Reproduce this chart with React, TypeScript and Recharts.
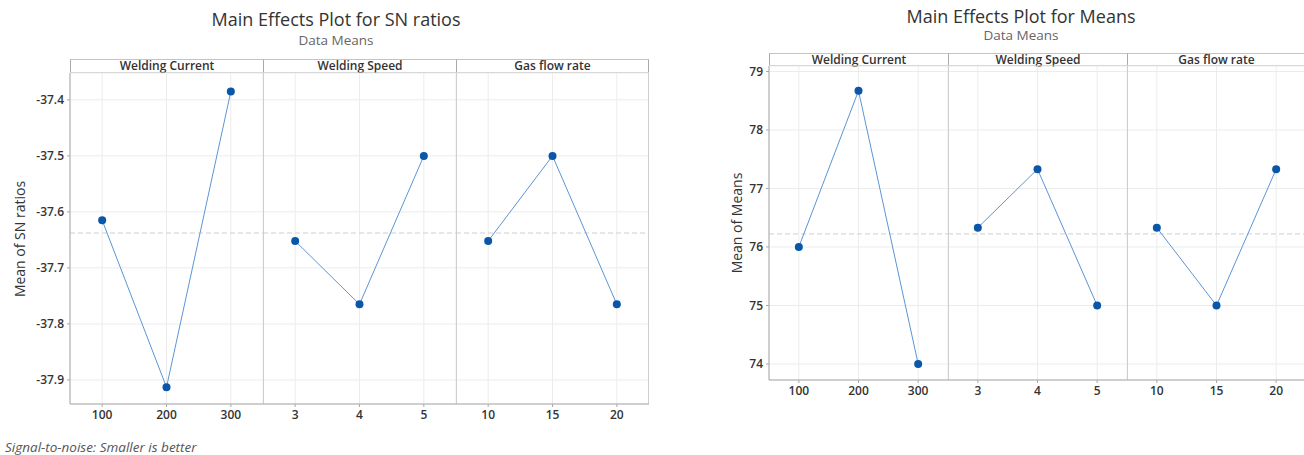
import React from 'react';
import { LineChart, Line, XAxis, YAxis, CartesianGrid, ReferenceLine } from 'recharts';

// factor names and levels
const factors = ['Welding Current', 'Welding Speed', 'Gas flow rate'];
const currentLevels = [100, 200, 300];
const speedLevels = [3, 4, 5];
const gasLevels = [10, 15, 20];

// SN ratio means per level
const snCurrent = [-37.615, -37.913, -37.385];
const snSpeed = [-37.652, -37.765, -37.5];
const snGas = [-37.652, -37.5, -37.765];
const snTicks = [-37.9, -37.8, -37.7, -37.6, -37.5, -37.4];

// data means per level
const meanCurrent = [76.0, 78.67, 74.0];
const meanSpeed = [76.33, 77.33, 75.0];
const meanGas = [76.33, 75.0, 77.33];
const meanTicks = [74, 75, 76, 77, 78, 79];

const FONT = '"Open Sans", "Noto Sans", sans-serif';
const FRAME = '#a9a9a9';
const GRID = '#ececec';
const PAD = 10; // room above the plot so top tick labels aren't clipped

const avg = (a: number[]) => a.reduce((s, v) => s + v, 0) / a.length;

const toRows = (levels: number[], vals: number[]) => levels.map((x, i) => ({ x, y: vals[i] }));

const xDomainOf = (levels: number[]) => {
  const step = levels[1] - levels[0];
  return [levels[0] - step / 2, levels[levels.length - 1] + step / 2];
};

interface PanelProps {
  levels: number[];
  values: number[];
  yDomain: number[];
  yTicks: number[];
  yFmt: (v: number) => string;
  mean: number;
  panelW: number;
  plotH: number;
  yW: number;
  first: boolean;
  last: boolean;
}

const Panel = (p: PanelProps) => {
  const xd = xDomainOf(p.levels);
  const tickStyle = { fontSize: 12, fill: '#333', fontWeight: 600, fontFamily: FONT };
  return (
    <LineChart
      width={p.panelW + (p.first ? p.yW : 0)}
      height={p.plotH + 30 + PAD}
      data={toRows(p.levels, p.values)}
      margin={{ top: PAD, right: 0, left: 0, bottom: 0 }}
    >
      <CartesianGrid stroke={GRID} />
      <XAxis
        dataKey="x"
        type="number"
        domain={xd}
        allowDataOverflow
        ticks={p.levels}
        height={30}
        stroke={FRAME}
        tickSize={3}
        tickMargin={3}
        tick={tickStyle}
        interval={0}
      />
      <YAxis
        type="number"
        domain={p.yDomain}
        allowDataOverflow
        ticks={p.yTicks}
        hide={!p.first}
        width={p.first ? p.yW : 0}
        stroke={FRAME}
        tickSize={3}
        tickMargin={3}
        tick={tickStyle}
        tickFormatter={p.yFmt}
        interval={0}
      />
      {!p.first && <ReferenceLine x={xd[0]} stroke={FRAME} ifOverflow="visible" />}
      {p.last && <ReferenceLine x={xd[1]} stroke={FRAME} ifOverflow="visible" />}
      <ReferenceLine y={p.mean} stroke="#cfcfcf" strokeDasharray="5 3" />
      <Line
        dataKey="y"
        type="linear"
        stroke="#5a95d6"
        strokeWidth={1}
        dot={{ r: 4, fill: '#0a56a8', stroke: '#0a56a8', strokeWidth: 0 }}
        activeDot={false}
        isAnimationActive={false}
      />
    </LineChart>
  );
};

interface FigureProps {
  title: string;
  titleX: number;
  titleY: number;
  subY: number;
  left: number;
  stripTop: number;
  stripH: number;
  panelW: number;
  plotH: number;
  yW: number;
  yLabel: string;
  yLabelX: number;
  yDomain: number[];
  yTicks: number[];
  yFmt: (v: number) => string;
  levels: number[][];
  values: number[][];
}

const Figure = (f: FigureProps) => {
  const plotTop = f.stripTop + f.stripH;
  return (
    <>
      <div style={{ position: 'absolute', left: f.titleX - 300, width: 600, top: f.titleY - 10, textAlign: 'center', fontSize: 18, color: '#333', fontFamily: FONT, lineHeight: '20px' }}>
        {f.title}
      </div>
      <div style={{ position: 'absolute', left: f.titleX - 300, width: 600, top: f.subY - 7, textAlign: 'center', fontSize: 13.5, color: '#666', fontFamily: FONT, lineHeight: '15px' }}>
        Data Means
      </div>
      <div style={{ position: 'absolute', left: f.yLabelX - 150, width: 300, top: plotTop + f.plotH / 2 - 10, textAlign: 'center', fontSize: 14, color: '#333', fontFamily: FONT, lineHeight: '20px', transform: 'rotate(-90deg)' }}>
        {f.yLabel}
      </div>
      {factors.map((name, i) => (
        <div
          key={name}
          style={{
            position: 'absolute',
            left: f.left + i * f.panelW,
            top: f.stripTop,
            width: f.panelW,
            height: f.stripH,
            boxSizing: 'border-box',
            borderTop: '1px solid #c4c4c4',
            borderBottom: '1px solid #c4c4c4',
            borderLeft: `1px solid ${FRAME}`,
            borderRight: i === 2 ? `1px solid ${FRAME}` : 'none',
            textAlign: 'center',
            fontSize: 12,
            fontWeight: 600,
            color: '#333',
            fontFamily: FONT,
            lineHeight: `${f.stripH - 2}px`,
          }}
        >
          {name}
        </div>
      ))}
      {factors.map((name, i) => (
        <div key={name + 'p'} style={{ position: 'absolute', top: plotTop - PAD, left: f.left + i * f.panelW - (i === 0 ? f.yW : 0) }}>
          <Panel
            levels={f.levels[i]}
            values={f.values[i]}
            yDomain={f.yDomain}
            yTicks={f.yTicks}
            yFmt={f.yFmt}
            mean={avg(f.values[0])}
            panelW={f.panelW}
            plotH={f.plotH}
            yW={f.yW}
            first={i === 0}
            last={i === 2}
          />
        </div>
      ))}
    </>
  );
};

const App = () => {
  const levels = [currentLevels, speedLevels, gasLevels];
  return (
    <div style={{ position: 'absolute', left: 0, top: 0, width: 1304, height: 455, overflow: 'hidden', background: '#fff' }}>
      <Figure
        title="Main Effects Plot for SN ratios"
        titleX={336}
        titleY={19}
        subY={40}
        left={70}
        stripTop={59}
        stripH={14}
        panelW={193}
        plotH={331}
        yW={60}
        yLabel="Mean of SN ratios"
        yLabelX={20}
        yDomain={[-37.943, -37.352]}
        yTicks={snTicks}
        yFmt={(v) => v.toFixed(1)}
        levels={levels}
        values={[snCurrent, snSpeed, snGas]}
      />
      <Figure
        title="Main Effects Plot for Means"
        titleX={1021}
        titleY={16}
        subY={35}
        left={769}
        stripTop={53}
        stripH={13}
        panelW={179}
        plotH={314}
        yW={40}
        yLabel="Mean of Means"
        yLabelX={737}
        yDomain={[73.726, 79.094]}
        yTicks={meanTicks}
        yFmt={(v) => String(v)}
        levels={levels}
        values={[meanCurrent, meanSpeed, meanGas]}
      />
      <div style={{ position: 'absolute', left: 5, top: 438, fontSize: 13.5, fontStyle: 'italic', color: '#555', fontFamily: FONT, lineHeight: '18px' }}>
        Signal-to-noise: Smaller is better
      </div>
    </div>
  );
};

export default App;
